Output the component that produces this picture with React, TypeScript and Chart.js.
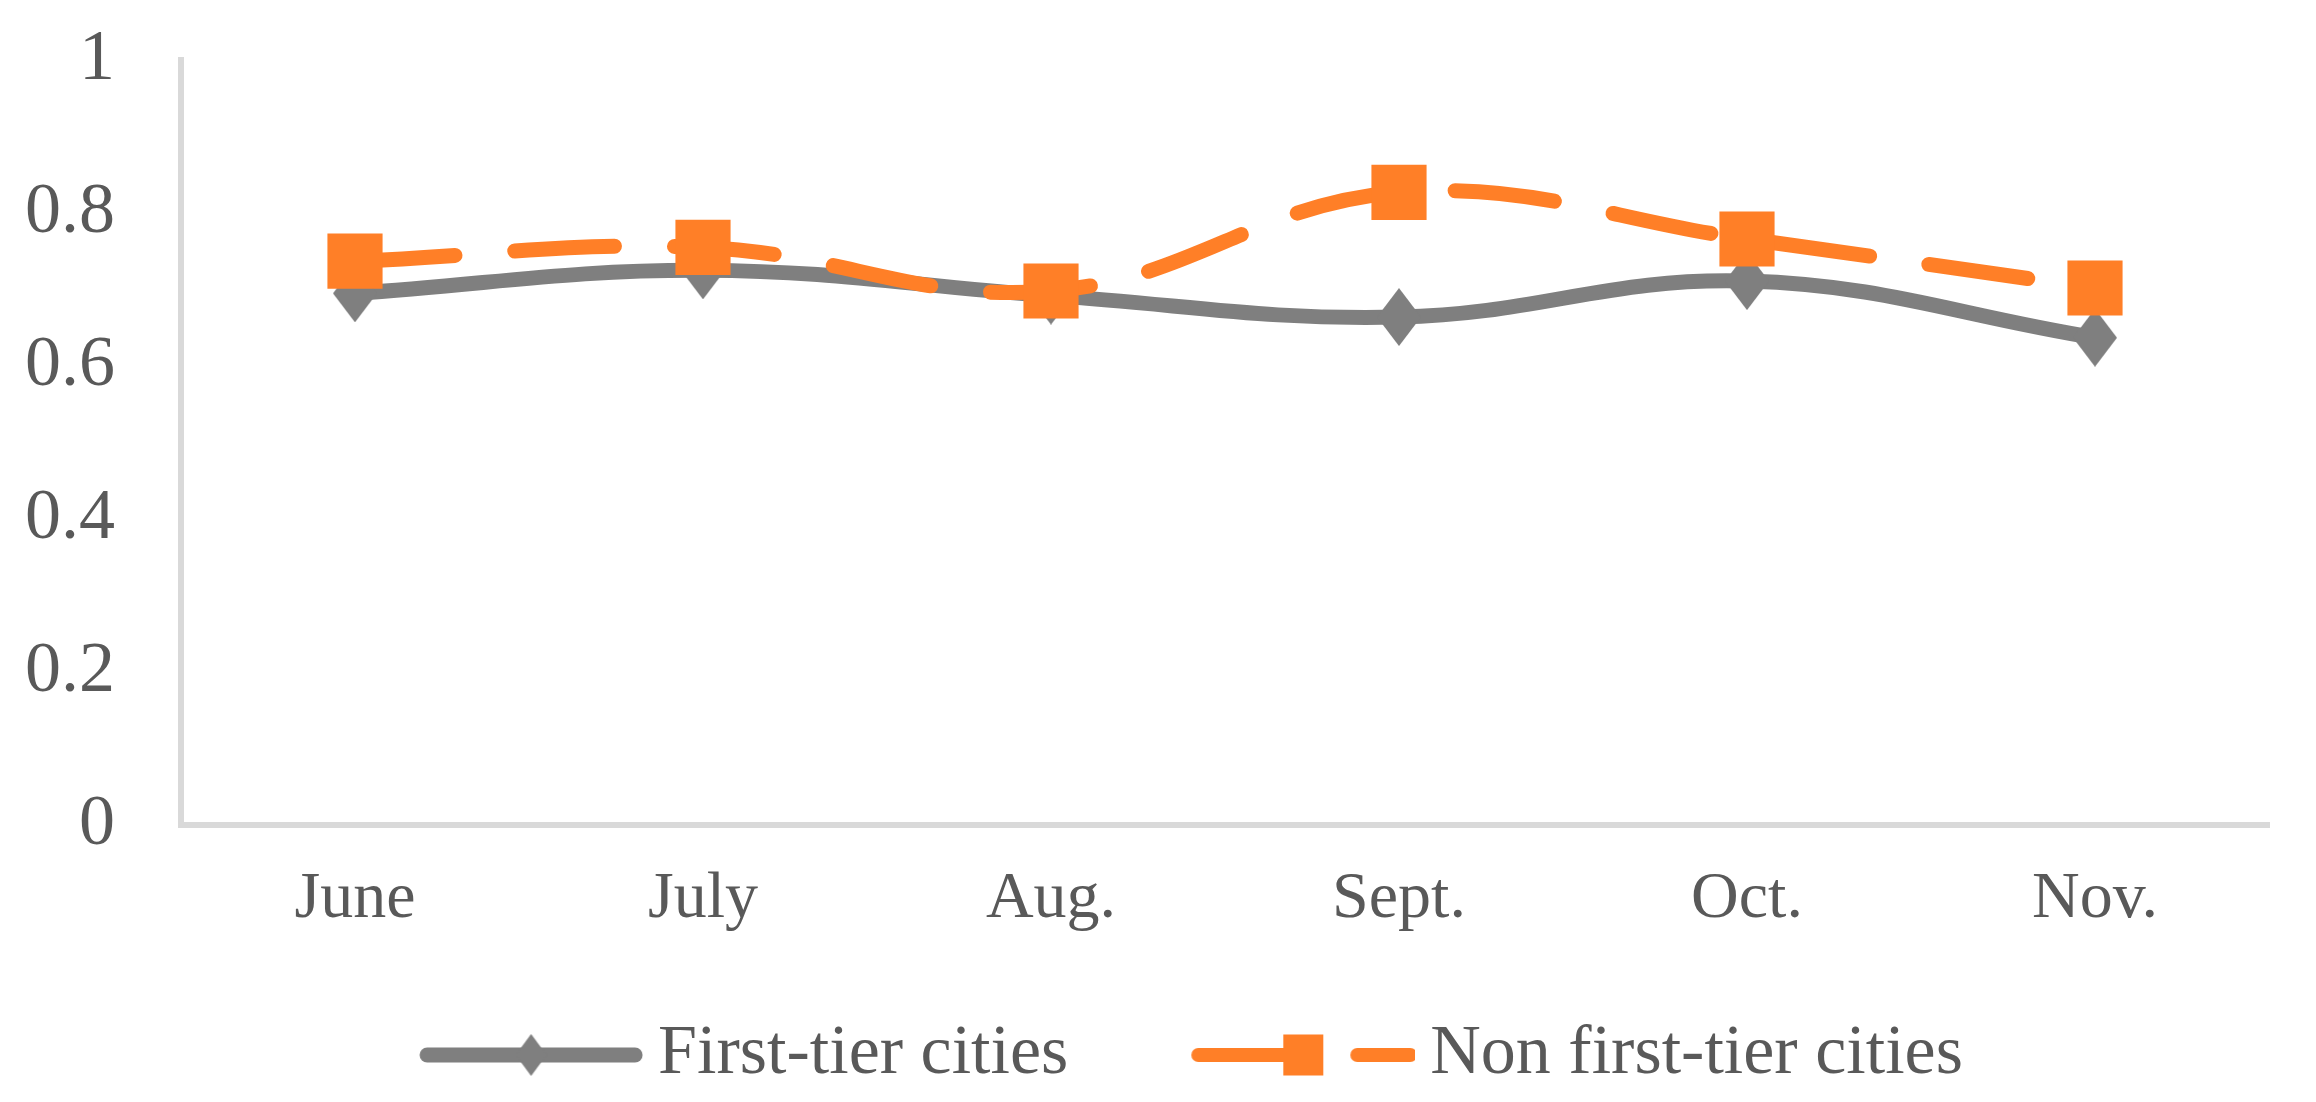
import { useEffect, useRef } from 'react';
import { Chart, registerables } from 'chart.js';

Chart.register(...registerables);

const categories = ['June', 'July', 'Aug.', 'Sept.', 'Oct.', 'Nov.'];
const firstTierValues = [0.695, 0.725, 0.692, 0.664, 0.711, 0.637];
const nonFirstTierValues = [0.737, 0.755, 0.698, 0.827, 0.766, 0.702];
const seriesLabels = ['First-tier cities', 'Non first-tier cities'];
const yTickValues = [0, 0.2, 0.4, 0.6, 0.8, 1];

const GRAY = '#7f7f7f';
const ORANGE = '#ff7f27';
const AXIS = '#d9d9d9';
const TEXT = '#595959';
const FONT = "'Times New Roman', 'Liberation Serif', serif";

const CANVAS_W = 2300;
const CANVAS_H = 1092;
const VISIBLE_H = 1086;
const LEGEND_FONT = 70;
const X_FONT = 66;
const Y_FONT = 72;
const PAD_LEFT = 0;
const PLOT_LEFT = 173;
const PLOT_TOP = 52;
const PLOT_BOTTOM = 817;
const PAD_RIGHT = 17;
const LEGEND_BOX = 287;
const LEGEND_GAP = 40;
const LEGEND_H = LEGEND_FONT + LEGEND_GAP + 10;
const X_AXIS_H = CANVAS_H - LEGEND_H - PLOT_BOTTOM;

function diamond(w: number, h: number, color: string) {
  const c = document.createElement('canvas');
  c.width = w;
  c.height = h;
  const ctx = c.getContext('2d')!;
  ctx.fillStyle = color;
  ctx.beginPath();
  ctx.moveTo(w / 2, 0);
  ctx.lineTo(w, h / 2);
  ctx.lineTo(w / 2, h);
  ctx.lineTo(0, h / 2);
  ctx.closePath();
  ctx.fill();
  return c;
}

function legendGray() {
  const W = LEGEND_BOX + 40;
  const H = 60;
  const c = document.createElement('canvas');
  c.width = W;
  c.height = H;
  const ctx = c.getContext('2d')!;
  const s = LEGEND_BOX - 184;
  ctx.strokeStyle = GRAY;
  ctx.lineWidth = 15;
  ctx.lineCap = 'round';
  ctx.beginPath();
  ctx.moveTo(s + 8, H / 2);
  ctx.lineTo(s + 216, H / 2);
  ctx.stroke();
  ctx.drawImage(diamond(31, 42, GRAY), s + 112 - 15.5, H / 2 - 21);
  return c;
}

function legendOrange() {
  const W = LEGEND_BOX + 40;
  const H = 60;
  const c = document.createElement('canvas');
  c.width = W;
  c.height = H;
  const ctx = c.getContext('2d')!;
  const s = LEGEND_BOX - 184;
  ctx.strokeStyle = ORANGE;
  ctx.fillStyle = ORANGE;
  ctx.lineWidth = 14;
  ctx.lineCap = 'round';
  ctx.beginPath();
  ctx.moveTo(s + 7, H / 2);
  ctx.lineTo(s + 95, H / 2);
  ctx.stroke();
  ctx.fillRect(s + 92, H / 2 - 20.5, 40, 41);
  ctx.beginPath();
  ctx.moveTo(s + 166, H / 2);
  ctx.lineTo(s + 219, H / 2);
  ctx.stroke();
  return c;
}

export default function App() {
  const ref = useRef<HTMLCanvasElement | null>(null);

  useEffect(() => {
    if (!ref.current) return;
    const grayLegend = legendGray();
    const orangeLegend = legendOrange();
    const chart = new Chart(ref.current, {
      type: 'line',
      data: {
        labels: categories,
        datasets: [
          {
            label: seriesLabels[0],
            data: firstTierValues,
            borderColor: GRAY,
            backgroundColor: GRAY,
            borderWidth: 15,
            tension: 0.4,
            pointStyle: diamond(44, 58, GRAY) as any,
            pointRadius: 22,
            pointBorderWidth: 0,
            order: 1,
          },
          {
            label: seriesLabels[1],
            data: nonFirstTierValues,
            borderColor: ORANGE,
            backgroundColor: ORANGE,
            borderWidth: 15,
            borderDash: [100, 60],
            borderCapStyle: 'round',
            borderJoinStyle: 'round',
            tension: 0.4,
            pointStyle: 'rect',
            pointRadius: 39,
            pointBorderWidth: 0,
            order: 0,
          },
        ],
      },
      options: {
        responsive: false,
        animation: false,
        layout: { padding: { left: PAD_LEFT, top: PLOT_TOP, right: PAD_RIGHT, bottom: 0 } },
        plugins: {
          tooltip: { enabled: false },
          legend: {
            display: true,
            position: 'bottom',
            labels: {
              usePointStyle: true,
              pointStyleWidth: LEGEND_BOX,
              padding: LEGEND_GAP,
              color: TEXT,
              font: { size: LEGEND_FONT, family: FONT },
              generateLabels: () => [
                {
                  text: seriesLabels[0],
                  pointStyle: grayLegend as any,
                  fillStyle: GRAY,
                  strokeStyle: GRAY,
                  lineWidth: 0,
                  hidden: false,
                  datasetIndex: 0,
                  fontColor: TEXT,
                },
                {
                  text: seriesLabels[1],
                  pointStyle: orangeLegend as any,
                  fillStyle: ORANGE,
                  strokeStyle: ORANGE,
                  lineWidth: 0,
                  hidden: false,
                  datasetIndex: 1,
                  fontColor: TEXT,
                },
              ],
            },
          },
        },
        scales: {
          x: {
            type: 'category',
            offset: true,
            grid: { display: false, drawTicks: false },
            border: { display: true, color: AXIS, width: 6 },
            ticks: {
              color: TEXT,
              font: { size: X_FONT, family: FONT },
              padding: 35,
              maxRotation: 0,
              autoSkip: false,
            },
            afterFit: (s: any) => {
              s.height = X_AXIS_H;
              s.paddingLeft = 0;
              s.paddingRight = 0;
            },
          },
          y: {
            min: 0,
            max: 1,
            grid: { display: false, drawTicks: false },
            border: { display: true, color: AXIS, width: 6 },
            ticks: {
              color: TEXT,
              font: { size: Y_FONT, family: FONT },
              padding: 66,
              callback: (v: any) => String(v),
            },
            afterBuildTicks: (s: any) => {
              s.ticks = yTickValues.map((v) => ({ value: v }));
            },
            afterFit: (s: any) => {
              s.width = PLOT_LEFT - PAD_LEFT;
              s.paddingTop = 0;
              s.paddingBottom = 0;
            },
          },
        },
      },
    });
    return () => chart.destroy();
  }, []);

  return (
    <div style={{ width: CANVAS_W + 'px', height: VISIBLE_H + 'px', overflow: 'hidden' }}>
      <canvas
        ref={ref}
        width={CANVAS_W}
        height={CANVAS_H}
        style={{ display: 'block', width: CANVAS_W + 'px', height: CANVAS_H + 'px' }}
      />
    </div>
  );
}
